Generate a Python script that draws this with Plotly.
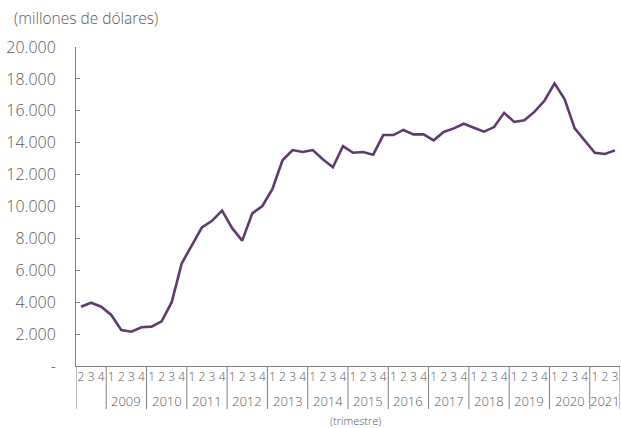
import plotly.graph_objects as go

# quarterly series, 2008 Q2 .. 2021 Q3 (millones de dólares)
years = [2008] * 3 + [y for y in range(2009, 2021) for _ in range(4)] + [2021] * 3
quarters = [2, 3, 4] + [1, 2, 3, 4] * 12 + [1, 2, 3]
values = [
    3720, 3970, 3720,
    3200, 2250, 2150, 2430,
    2470, 2800, 4000, 6440,
    7590, 8690, 9100, 9740,
    8640, 7860, 9570, 10030,
    11100, 12900, 13540, 13420,
    13540, 12960, 12460, 13780,
    13370, 13420, 13250, 14480,
    14480, 14800, 14520, 14520,
    14150, 14670, 14900, 15190,
    14940, 14690, 14980, 15870,
    15300, 15410, 15930, 16630,
    17720, 16740, 14900, 14140,
    13370, 13290, 13520,
]
year_labels = [str(y) for y in range(2009, 2022)]
ytick_vals = list(range(0, 20001, 2000))
ytick_text = ['-'] + [f"{v:,}".replace(',', '.') for v in ytick_vals[1:]]

x = list(range(len(values)))
txt = '#595959'
axis_col = '#7f7f7f'
light = dict(family='Open Sans', weight=300, color=txt)

fig = go.Figure(go.Scatter(
    x=x, y=values, mode='lines',
    line=dict(color='#5e3a6e', width=2.6),
    hoverinfo='skip',
))

# year separators and labels under the axis
starts = {}
for i, yr in enumerate(years):
    starts.setdefault(yr, []).append(i)
bounds = [-0.5] + [starts[yr][-1] + 0.5 for yr in sorted(starts)]

shapes = []
for b in bounds:
    shapes.append(dict(type='line', xref='x', yref='paper', x0=b, x1=b,
                       y0=0, y1=-0.135, line=dict(color=axis_col, width=1)))

annotations = []
for yr in sorted(starts):
    if str(yr) not in year_labels:
        continue
    idx = starts[yr]
    annotations.append(dict(x=(idx[0] + idx[-1]) / 2, y=-0.11, xref='x', yref='paper',
                            yanchor='middle', text=str(yr), showarrow=False,
                            font=dict(light, size=13)))

annotations.append(dict(x=-0.1176, y=1.091, xref='paper', yref='paper',
                        xanchor='left', yanchor='middle',
                        text='(millones de dólares)', showarrow=False,
                        font=dict(light, size=15.5)))
annotations.append(dict(x=0.513, y=-0.172, xref='paper', yref='paper', yanchor='middle',
                        text='(trimestre)', showarrow=False,
                        font=dict(light, size=11)))

fig.update_layout(
    width=621, height=428,
    margin=dict(l=76, r=1, t=47, b=62),
    paper_bgcolor='white', plot_bgcolor='white',
    font=light,
    showlegend=False,
    shapes=shapes,
    annotations=annotations,
    xaxis=dict(
        range=[-0.5, len(values) - 0.5],
        tickmode='array', tickvals=x, ticktext=[str(q) for q in quarters],
        tickfont=dict(light, size=12), tickangle=0,
        showgrid=False, zeroline=False,
        showline=True, linecolor=axis_col, linewidth=1,
        ticks='', automargin=False,
    ),
    yaxis=dict(
        range=[0, 20000],
        tickmode='array', tickvals=ytick_vals, ticktext=ytick_text,
        tickfont=dict(light, size=16),
        showgrid=False, zeroline=False,
        showline=True, linecolor=axis_col, linewidth=1,
        ticks='inside', ticklen=4, tickcolor=axis_col,
        ticklabelstandoff=16, automargin=False,
    ),
)

# drop the default body margin so the figure fills the window exactly
fig.write_html("out.html", config={'displayModeBar': False},
               post_script="document.body.style.margin='0';document.body.style.overflow='hidden';")
